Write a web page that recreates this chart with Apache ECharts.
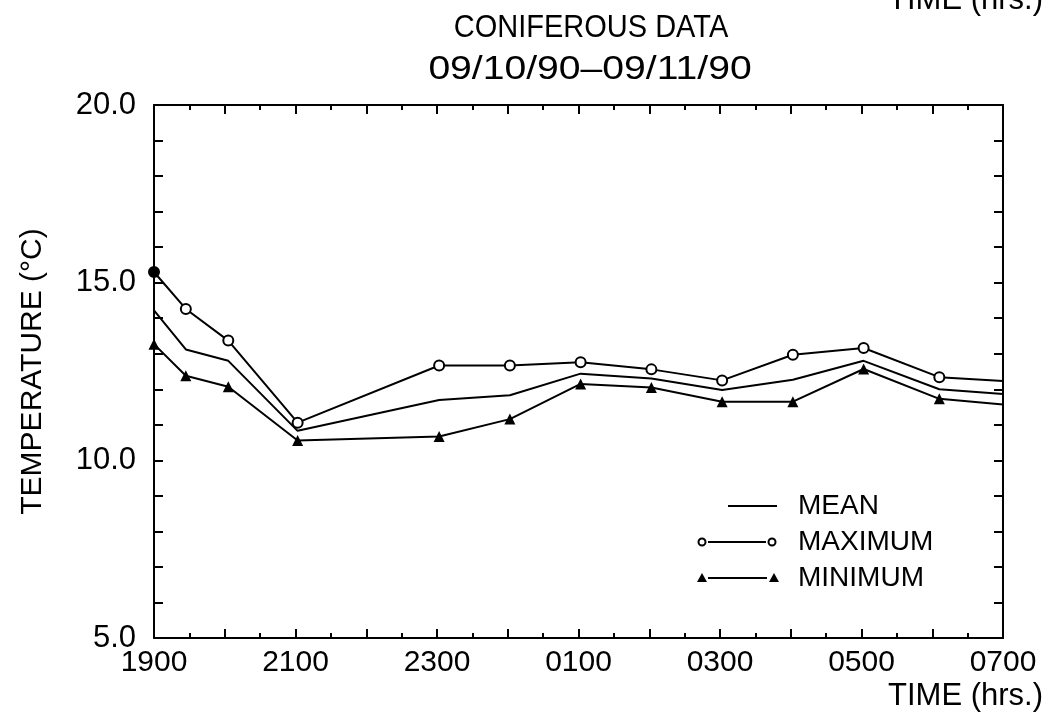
<!DOCTYPE html>
<html><head><meta charset="utf-8">
<script src="https://cdn.jsdelivr.net/npm/echarts@6/dist/echarts.min.js"></script>
<style>html,body{margin:0;padding:0;background:#fff}#c{width:1052px;height:721px}</style>
</head><body><div id="c"></div>
<script>
// hours after 1900
var hours = [0, 0.45, 1.05, 2.03, 4.03, 5.03, 6.03, 7.03, 8.03, 9.03, 10.03, 11.1, 12];
var meanVals = [14.22, 13.12, 12.80, 10.83, 11.70, 11.83, 12.44, 12.30, 11.98, 12.27, 12.80, 12.00, 11.87];
var maxVals  = [15.30, 14.26, 13.37, 11.06, 12.67, 12.67, 12.76, 12.56, 12.25, 12.97, 13.16, 12.34, 12.23];
var minVals  = [13.27, 12.38, 12.07, 10.56, 10.67, 11.16, 12.15, 12.05, 11.65, 11.65, 12.57, 11.73, 11.57];
var title = 'CONIFEROUS DATA';
var subtitle = '09/10/90\u201309/11/90';
var axisTitleX = 'TIME (hrs.)';
var axisTitleY = 'TEMPERATURE (\u00b0C)';
var legendNames = ['MEAN', 'MAXIMUM', 'MINIMUM'];

var SANS = '"Liberation Sans", Arial, Helvetica, sans-serif';

function pts(vals, opts) {
  return vals.map(function (v, i) {
    var p = { value: [hours[i], v] };
    if (i === vals.length - 1) p.symbol = 'none';
    if (opts && opts.firstFilled && i === 0) p.itemStyle = { color: '#000' };
    return p;
  });
}
function xLabel(v) {
  if (v % 2 !== 0) return '';
  var h = (19 + v) % 24;
  return (h < 10 ? '0' : '') + h + '00';
}
function yLabel(v) {
  return v % 5 === 0 ? v.toFixed(1) : '';
}
var axisLine = { show: true, onZero: false, lineStyle: { color: '#000', width: 2 } };
var tick = { show: true, inside: true, length: 9, lineStyle: { color: '#000', width: 2 } };
var minor = { show: true, splitNumber: 2, length: 5, lineStyle: { color: '#000', width: 2 } };

var chart = echarts.init(document.getElementById('c'));
chart.setOption({
  backgroundColor: '#fff',
  animation: false,
  grid: { left: 154, right: 49, top: 105, bottom: 83 },
  xAxis: [
    { type: 'value', min: 0, max: 12, interval: 1, position: 'bottom',
      axisLine: axisLine, axisTick: tick, minorTick: minor,
      splitLine: { show: false }, minorSplitLine: { show: false },
      axisLabel: { formatter: xLabel, color: '#000', fontFamily: SANS, fontSize: 30, margin: 10 } },
    { type: 'value', min: 0, max: 12, interval: 1, position: 'top',
      axisLine: axisLine, axisTick: tick, minorTick: minor,
      splitLine: { show: false }, axisLabel: { show: false } }
  ],
  yAxis: [
    { type: 'value', min: 5, max: 20, interval: 1, position: 'left',
      axisLine: axisLine, axisTick: tick,
      splitLine: { show: false },
      axisLabel: { formatter: yLabel, color: '#000', fontFamily: SANS, fontSize: 31, margin: 18 },
      name: axisTitleY, nameLocation: 'middle', nameGap: 106, nameRotate: 90,
      nameTextStyle: { fontFamily: SANS, fontSize: 30, color: '#000' } },
    { type: 'value', min: 5, max: 20, interval: 1, position: 'right',
      axisLine: axisLine, axisTick: tick,
      splitLine: { show: false }, axisLabel: { show: false } }
  ],
  series: [
    { name: 'MEAN', type: 'line', data: pts(meanVals), showSymbol: false, symbol: 'none',
      lineStyle: { color: '#000', width: 2 }, itemStyle: { color: '#000' } },
    { name: 'MAXIMUM', type: 'line', data: pts(maxVals, { firstFilled: true }), symbol: 'circle', symbolSize: 10,
      lineStyle: { color: '#000', width: 2 },
      itemStyle: { color: '#fff', borderColor: '#000', borderWidth: 2 } },
    { name: 'MINIMUM', type: 'line', data: pts(minVals), symbol: 'triangle', symbolSize: 11,
      lineStyle: { color: '#000', width: 2 }, itemStyle: { color: '#000' } }
  ],
  graphic: [
    { type: 'text', x: 591, y: 28, scaleY: 1.08, style: { text: title, font: '29px ' + SANS, fill: '#000', align: 'center', verticalAlign: 'middle' } },
    { type: 'text', x: 590, y: 70, scaleX: 1.15, style: { text: subtitle, font: '34px ' + SANS, fill: '#000', align: 'center', verticalAlign: 'middle' } },
    { type: 'text', x: 1043, y: 696, style: { text: axisTitleX, font: '31px ' + SANS, fill: '#000', align: 'right', verticalAlign: 'middle' } },
    { type: 'text', x: 1043, y: 0, style: { text: axisTitleX, font: '31px ' + SANS, fill: '#000', align: 'right', verticalAlign: 'middle' } },
    // legend
    { type: 'line', shape: { x1: 728, y1: 506, x2: 777, y2: 506 }, style: { stroke: '#000', lineWidth: 2 } },
    { type: 'text', x: 798, y: 506, style: { text: legendNames[0], font: '28px ' + SANS, fill: '#000', verticalAlign: 'middle' } },
    { type: 'line', shape: { x1: 708, y1: 542, x2: 766, y2: 542 }, style: { stroke: '#000', lineWidth: 2 } },
    { type: 'circle', shape: { cx: 702, cy: 542, r: 3.5 }, style: { fill: '#fff', stroke: '#000', lineWidth: 2 } },
    { type: 'circle', shape: { cx: 772, cy: 542, r: 3.5 }, style: { fill: '#fff', stroke: '#000', lineWidth: 2 } },
    { type: 'text', x: 798, y: 542, style: { text: legendNames[1], font: '28px ' + SANS, fill: '#000', verticalAlign: 'middle' } },
    { type: 'line', shape: { x1: 708, y1: 578, x2: 767, y2: 578 }, style: { stroke: '#000', lineWidth: 2 } },
    { type: 'polygon', shape: { points: [[702, 573], [697, 582], [707, 582]] }, style: { fill: '#000' } },
    { type: 'polygon', shape: { points: [[774, 573], [769, 582], [779, 582]] }, style: { fill: '#000' } },
    { type: 'text', x: 798, y: 578, style: { text: legendNames[2], font: '28px ' + SANS, fill: '#000', verticalAlign: 'middle' } }
  ]
});
</script></body></html>
